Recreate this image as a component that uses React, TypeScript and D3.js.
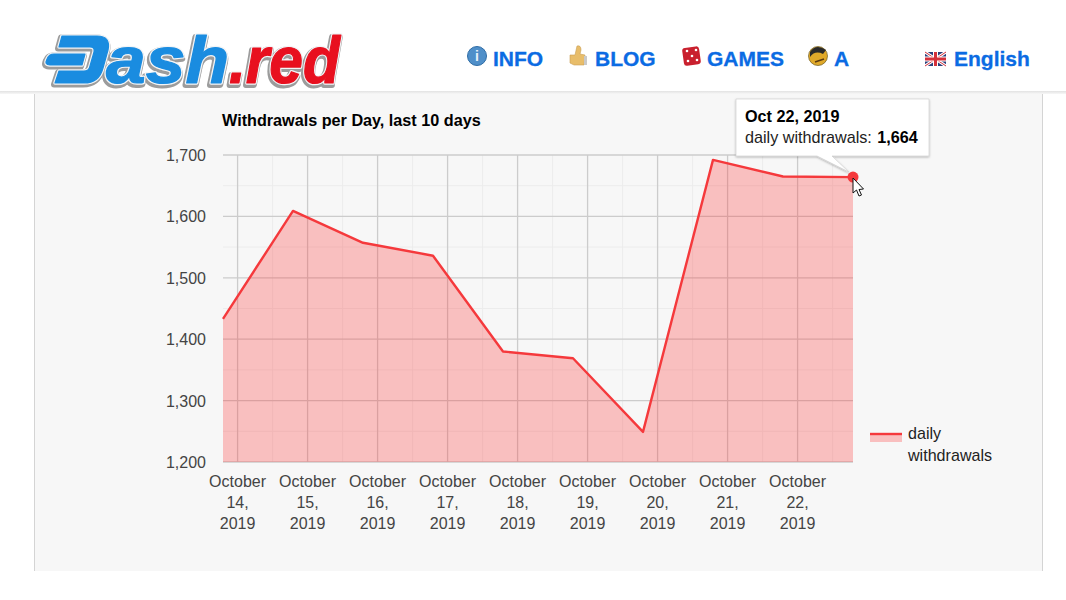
import React from "react";
import * as d3 from "d3";

const W = 1066, H = 600;
const pointTimes = [
  "2019-10-13T19:00", "2019-10-14T19:00", "2019-10-15T19:00", "2019-10-16T19:00", "2019-10-17T19:00",
  "2019-10-18T19:00", "2019-10-19T19:00", "2019-10-20T19:00", "2019-10-21T19:00", "2019-10-22T19:00",
];
const withdrawals = [1433, 1609, 1557, 1536, 1380, 1369, 1249, 1692, 1665, 1664];
const xTickDates = ["2019-10-14", "2019-10-15", "2019-10-16", "2019-10-17", "2019-10-18", "2019-10-19", "2019-10-20", "2019-10-21", "2019-10-22"];
const xTickLines = [
  ["October", "14,", "2019"], ["October", "15,", "2019"], ["October", "16,", "2019"],
  ["October", "17,", "2019"], ["October", "18,", "2019"], ["October", "19,", "2019"],
  ["October", "20,", "2019"], ["October", "21,", "2019"], ["October", "22,", "2019"],
];
const yTicks = [1200, 1300, 1400, 1500, 1600, 1700];
const yMinorTicks = [1250, 1350, 1450, 1550, 1650];
const navItems = [
  { label: "INFO", x: 493 }, { label: "BLOG", x: 595 }, { label: "GAMES", x: 707 }, { label: "A", x: 834 }, { label: "English", x: 954 },
];

const SANS = "'Liberation Sans', Arial, sans-serif";
const time = (s: string) => new Date(s.length > 10 ? s : s + "T00:00");

const x = d3.scaleTime().domain([time(pointTimes[0]), time(pointTimes[9])]).range([223, 853]);
const y = d3.scaleLinear().domain([1200, 1700]).range([462, 155]);
const rows = pointTimes.map((t, i) => ({ t: time(t), v: withdrawals[i] }));
const line = d3.line<any>().x(d => x(d.t)).y(d => y(d.v));
const area = d3.area<any>().x(d => x(d.t)).y0(y(1200)).y1(d => y(d.v));
const minorX = xTickDates.map(d => x(time(d)) + 35).filter(v => v < 853);

function Logo() {
  const dPath = "M62 36 L97 36 Q111 36 108 50 L103 68 Q99 83 84 83 L55 83 L59 71 L84 71 Q89 71 90 66 L94 52 Q95 47 90 47 L59 47 Z M54 54 L85 54 L82 65 L50 65 Q44 65 47 59 Q49 54 54 54 Z";
  const glyph = (fill: string, red: string, w: number, dx: number, dy: number, k: string) => (
    <g key={k} transform={`translate(${dx},${dy})`} strokeLinejoin="round">
      <path d={dPath} fill={fill} stroke={fill} strokeWidth={w} />
      <text x={106} y={83} fontFamily={SANS} fontWeight="bold" fontStyle="italic" fontSize={66} textLength={123} lengthAdjust="spacingAndGlyphs" fill={fill} stroke={fill} strokeWidth={w}>ash</text>
      <text x={229} y={83} fontFamily={SANS} fontWeight="bold" fontStyle="italic" fontSize={66} textLength={111} lengthAdjust="spacingAndGlyphs" fill={red} stroke={red} strokeWidth={w}>.red</text>
    </g>
  );
  return (
    <g>
      {glyph("#9c9c9c", "#9c9c9c", 6, -1, 1.5, "shadow")}
      {glyph("#f2f4f6", "#f2f4f6", 3.6, 0, 0, "halo")}
      {glyph("#1a8ce0", "#e8101f", 1.2, 0, 0, "top")}
    </g>
  );
}

function NavIcons() {
  return (
    <g>
      <circle cx={477} cy={56} r={9.5} fill="#4f8fc9" stroke="#2f6da6" />
      <text x={477} y={61} textAnchor="middle" fontFamily={SANS} fontWeight="bold" fontSize={14} fill="#e8f2fb">i</text>
      <path d="M570 55 L575 55 L577 46 Q581 45 581 50 L580 54 L585 55 L584 65 L574 65 L570 63 Z" fill="#e8bd6a" stroke="#c9a055" strokeWidth={0.6} />
      <rect x={584} y={56} width={3} height={9} fill="#c9c9c9" />
      <rect x={683} y={47} width={17} height={18} rx={3} fill="#c9202e" transform="rotate(-8 692 56)" />
      {[[687, 51], [696, 50], [692, 56], [688, 61], [697, 60]].map(([a, b], i) => <circle key={i} cx={a} cy={b} r={1.3} fill="#fff" />)}
      <circle cx={818} cy={56} r={9.5} fill="#e0a92a" stroke="#6b5a20" strokeWidth={0.7} />
      <path d="M810 52 Q816 43 826 50 L823 54 Q815 50 810 57 Z" fill="#2a2a2a" />
      <path d="M815 62 L824 59" stroke="#5a3a10" strokeWidth={1.5} />
      <rect x={925} y={52} width={21} height={14} fill="#2b3f7a" />
      <path d="M925 52 L946 66 M946 52 L925 66" stroke="#fff" strokeWidth={3} />
      <path d="M925 52 L946 66 M946 52 L925 66" stroke="#d4303a" strokeWidth={1} />
      <path d="M935.5 52 V66 M925 59 H946" stroke="#fff" strokeWidth={5} />
      <path d="M935.5 52 V66 M925 59 H946" stroke="#d4303a" strokeWidth={3} />
    </g>
  );
}

export default function App() {
  const last = rows[rows.length - 1];
  const px = x(last.t), py = y(last.v);
  return (
    <svg width={W} height={H} viewBox={`0 0 ${W} ${H}`} style={{ position: "absolute", left: 0, top: 0, background: "#fff" }} fontFamily={SANS}>
      <defs>
        <filter id="tipShadow" x="-10%" y="-10%" width="120%" height="130%">
          <feDropShadow dx="0" dy="1" stdDeviation="1.2" floodColor="#000" floodOpacity="0.3" />
        </filter>
        <linearGradient id="hdrShadow" x1="0" y1="0" x2="0" y2="1">
          <stop offset="0" stopColor="#e2e2e2" />
          <stop offset="1" stopColor="#f7f7f7" />
        </linearGradient>
      </defs>

      {/* page panel */}
      <rect x={34.5} y={91} width={1008} height={480} fill="#f7f7f7" />
      <path d="M34.5 91 V571 M1042.5 91 V571" stroke="#d4d4d4" fill="none" />
      <rect x={0} y={91} width={W} height={3} fill="url(#hdrShadow)" />
      <rect x={0} y={94} width={34} height={480} fill="#fff" />

      <Logo />
      <NavIcons />
      {navItems.map(n => (
        <text key={n.label} x={n.x} y={66} fontSize={21} fontWeight="bold" fill="#0b6be3" stroke="#0b6be3" strokeWidth={0.3}>{n.label}</text>
      ))}

      {/* chart grid */}
      {yMinorTicks.map(t => <line key={t} x1={223} x2={853} y1={y(t)} y2={y(t)} stroke="#ececec" />)}
      {minorX.map((v, i) => <line key={i} x1={v} x2={v} y1={155} y2={462} stroke="#ececec" />)}
      {yTicks.map(t => <line key={t} x1={223} x2={853} y1={y(t)} y2={y(t)} stroke="#cccccc" strokeWidth={1.3} />)}
      {xTickDates.map(d => <line key={d} x1={x(time(d))} x2={x(time(d))} y1={155} y2={462} stroke="#cccccc" strokeWidth={1.3} />)}

      <path d={area(rows) || ""} fill="#ff2a2a" fillOpacity={0.27} />
      <path d={line(rows) || ""} fill="none" stroke="#f5393c" strokeWidth={2.4} strokeLinejoin="round" />

      {/* axes */}
      {yTicks.map(t => (
        <text key={t} x={206} y={y(t) + 6} textAnchor="end" fontSize={16} fill="#444">{d3.format(",")(t)}</text>
      ))}
      {xTickDates.map((d, i) => (
        <text key={d} textAnchor="middle" fontSize={16} fill="#444">
          {xTickLines[i].map((s, k) => <tspan key={k} x={x(time(d))} y={487 + k * 21}>{s}</tspan>)}
        </text>
      ))}

      <text x={222} y={126} fontSize={16.2} fontWeight="bold" fill="#000">Withdrawals per Day, last 10 days</text>

      {/* legend */}
      <rect x={870} y={435} width={32} height={7} fill="#ff2a2a" fillOpacity={0.27} />
      <line x1={870} x2={902} y1={434} y2={434} stroke="#f5393c" strokeWidth={2.4} />
      <text fontSize={16.1} fill="#222">
        <tspan x={908} y={439}>daily</tspan>
        <tspan x={908} y={461}>withdrawals</tspan>
      </text>

      {/* hover point */}
      <circle cx={px} cy={py} r={5.5} fill="#f5393c" />

      {/* tooltip */}
      <path d={`M736 99 H929 V156 H832 L${px - 4} ${py - 5} L817 156 H736 Z`} fill="#fff" stroke="#c9c9c9" strokeWidth={0.6} filter="url(#tipShadow)" />
      <text x={745} y={122} fontSize={16.2} fontWeight="bold" fill="#000">Oct 22, 2019</text>
      <text x={745} y={143} fontSize={16.2} fill="#222">daily withdrawals: <tspan dx={1} fontWeight="bold" fill="#000">{d3.format(",")(last.v)}</tspan></text>

      {/* cursor */}
      <path d="M853 178 V193 L856.5 190 L859 196 L861.5 195 L859 189.5 L863.5 189 Z" fill="#fff" stroke="#111" strokeWidth={1} strokeLinejoin="round" />
    </svg>
  );
}
